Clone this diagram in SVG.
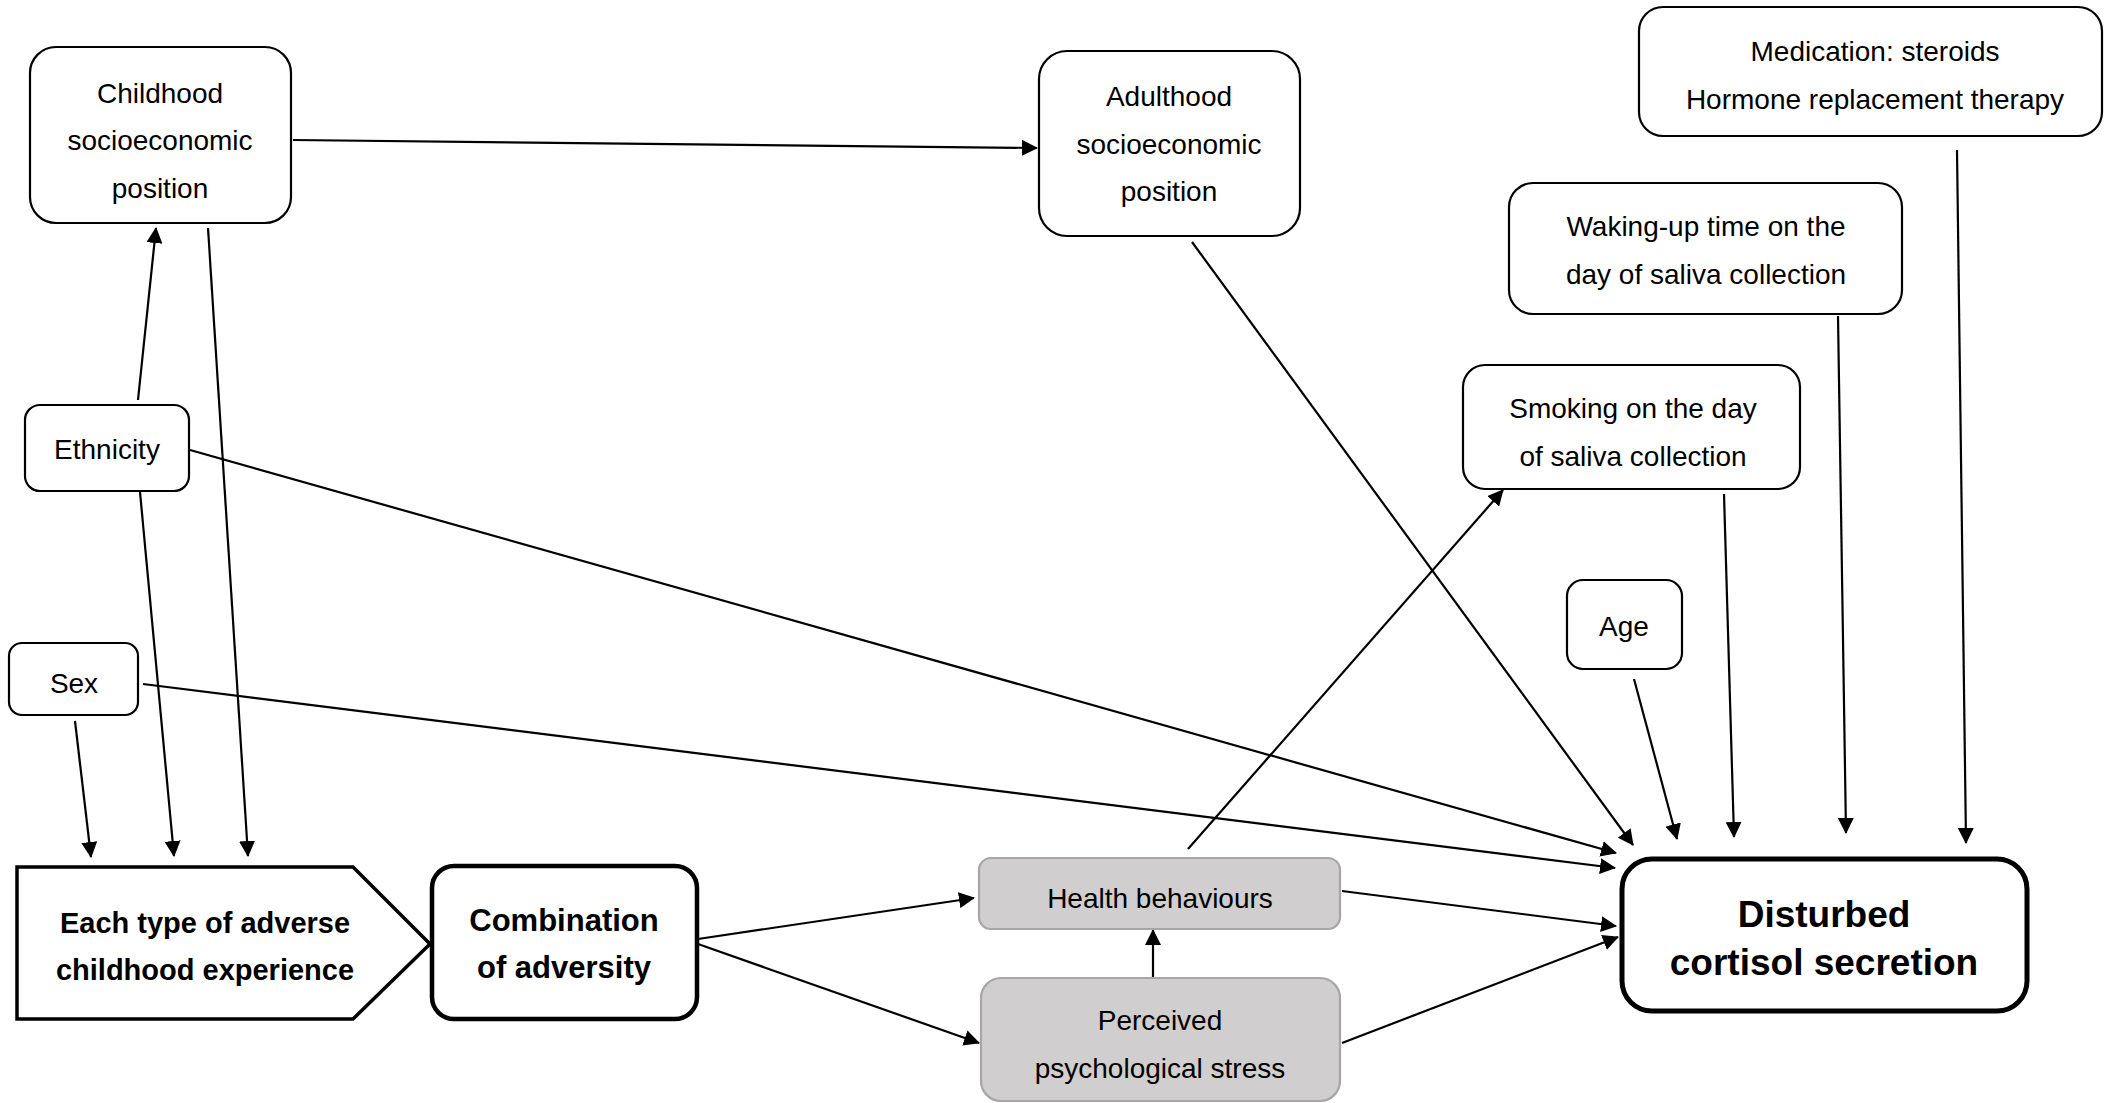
<svg xmlns="http://www.w3.org/2000/svg" width="2105" height="1103" viewBox="0 0 2105 1103">
<defs>
<marker id="arr" markerWidth="16" markerHeight="16" viewBox="0 0 16 16" refX="15" refY="8" orient="auto" markerUnits="userSpaceOnUse">
<path d="M0,0 L16,8 L0,16 Z" fill="#000"/>
</marker>
</defs>
<style>
.box{fill:#fff;stroke:#000;stroke-width:2.2}
.grey{fill:#d0cece;stroke:#a6a6a6;stroke-width:2.2}
.t{font-family:"Liberation Sans",Arial,sans-serif;font-size:28px;fill:#000;text-anchor:middle}
.b{font-family:"Liberation Sans",Arial,sans-serif;font-weight:bold;fill:#000;text-anchor:middle}
.c{stroke:#000;stroke-width:2.2;fill:none;marker-end:url(#arr)}
</style>
<rect width="2105" height="1103" fill="#fff"/>
<g id="connectors">
<line class="c" x1="293" y1="140" x2="1037" y2="148"/>
<line class="c" x1="138" y1="400" x2="156" y2="228"/>
<line class="c" x1="208" y1="228" x2="248" y2="856"/>
<line class="c" x1="140" y1="492" x2="174" y2="856"/>
<line class="c" x1="75" y1="721" x2="91" y2="857"/>
<line class="c" x1="190" y1="450" x2="1616" y2="853"/>
<line class="c" x1="143" y1="684" x2="1615" y2="868"/>
<line class="c" x1="1192" y1="242" x2="1633" y2="845"/>
<line class="c" x1="1188" y1="849" x2="1503" y2="490"/>
<line class="c" x1="1634" y1="679" x2="1677" y2="839"/>
<line class="c" x1="1724" y1="494" x2="1734" y2="837"/>
<line class="c" x1="1838" y1="316" x2="1846" y2="833"/>
<line class="c" x1="1957" y1="150" x2="1966" y2="843"/>
<line class="c" x1="698" y1="939" x2="974" y2="898"/>
<line class="c" x1="698" y1="944" x2="979" y2="1043"/>
<line class="c" x1="1153" y1="977" x2="1153" y2="930"/>
<line class="c" x1="1342" y1="891" x2="1616" y2="926"/>
<line class="c" x1="1342" y1="1043" x2="1618" y2="937"/>
</g>
<g id="childhood-sep">
<rect class="box" x="30" y="47" width="261" height="176" rx="26"/>
<text class="t" x="160" y="103">Childhood</text>
<text class="t" x="160" y="150">socioeconomic</text>
<text class="t" x="160" y="198">position</text>
</g>
<g id="adulthood-sep">
<rect class="box" x="1039" y="51" width="261" height="185" rx="28"/>
<text class="t" x="1169" y="106">Adulthood</text>
<text class="t" x="1169" y="154">socioeconomic</text>
<text class="t" x="1169" y="201">position</text>
</g>
<g id="ethnicity">
<rect class="box" x="25" y="405" width="164" height="86" rx="15"/>
<text class="t" x="107" y="459">Ethnicity</text>
</g>
<g id="sex">
<rect class="box" x="9" y="643" width="129" height="72" rx="13"/>
<text class="t" x="74" y="693">Sex</text>
</g>
<g id="medication">
<rect class="box" x="1639" y="7" width="463" height="129" rx="24"/>
<text class="t" x="1875" y="61">Medication: steroids</text>
<text class="t" x="1875" y="109">Hormone replacement therapy</text>
</g>
<g id="waking">
<rect class="box" x="1509" y="183" width="393" height="131" rx="24"/>
<text class="t" x="1706" y="236">Waking-up time on the</text>
<text class="t" x="1706" y="284">day of saliva collection</text>
</g>
<g id="smoking">
<rect class="box" x="1463" y="365" width="337" height="124" rx="22"/>
<text class="t" x="1633" y="418">Smoking on the day</text>
<text class="t" x="1633" y="466">of saliva collection</text>
</g>
<g id="age">
<rect class="box" x="1567" y="580" width="115" height="89" rx="16"/>
<text class="t" x="1624" y="636">Age</text>
</g>
<g id="each-type">
<path d="M17,867 L353,867 L430,944 L353,1019 L17,1019 Z" fill="#fff" stroke="#000" stroke-width="3.5"/>
<text class="b" x="205" y="933" font-size="29">Each type of adverse</text>
<text class="b" x="205" y="980" font-size="29">childhood experience</text>
</g>
<g id="combination">
<rect x="432" y="866" width="265" height="153" rx="22" fill="#fff" stroke="#000" stroke-width="4.5"/>
<text class="b" x="564" y="931" font-size="31">Combination</text>
<text class="b" x="564" y="978" font-size="31">of adversity</text>
</g>
<g id="health-behaviours">
<rect class="grey" x="979" y="858" width="361" height="71" rx="12"/>
<text class="t" x="1160" y="908">Health behaviours</text>
</g>
<g id="stress">
<rect class="grey" x="981" y="978" width="359" height="123" rx="20"/>
<text class="t" x="1160" y="1030">Perceived</text>
<text class="t" x="1160" y="1078">psychological stress</text>
</g>
<g id="cortisol">
<rect x="1622" y="859" width="405" height="152" rx="30" fill="#fff" stroke="#000" stroke-width="5"/>
<text class="b" x="1824" y="927" font-size="37">Disturbed</text>
<text class="b" x="1824" y="975" font-size="37">cortisol secretion</text>
</g>
</svg>
